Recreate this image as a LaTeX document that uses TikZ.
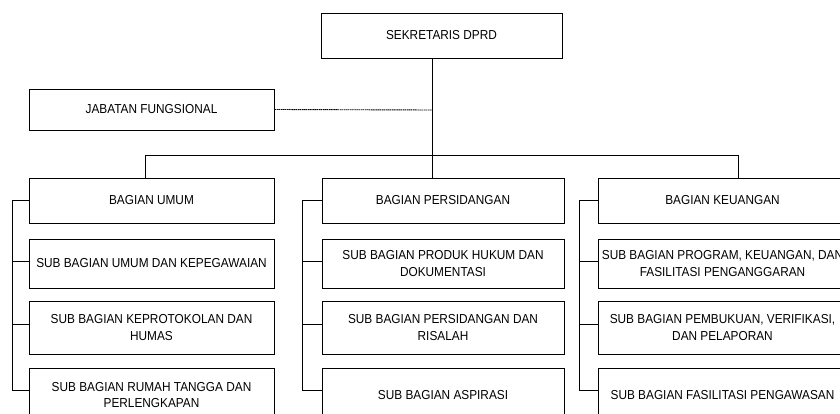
\documentclass[tikz,border=0pt]{standalone}
\usepackage{fontspec}
\setmainfont[FakeStretch=0.91]{Liberation Sans}
\begin{document}
\begin{tikzpicture}[x=1pt,y=-1pt,
  box/.style={draw, line width=0.9pt, align=center, inner sep=0.5pt,
    font=\fontsize{13}{16.5}\selectfont},
  colA/.style={box, minimum width=245pt},
  colB/.style={box, minimum width=242pt},
  colC/.style={box, minimum width=249pt},
  hA/.style={minimum height=45pt},
  hB/.style={minimum height=49pt},
  hC/.style={minimum height=53pt},
  hD/.style={minimum height=54pt},
  conn/.style={line width=0.9pt},
  dashconn/.style={line width=0.9pt, dash pattern=on 1.5pt off 0.6pt}]
\useasboundingbox (0,0) rectangle (840,414);
\clip (0,0) rectangle (840,414);

% top
\node[box, minimum width=241pt, minimum height=45pt] (sek) at (441.5,35.5) {SEKRETARIS DPRD};
\node[colA, minimum height=41pt] (jab) at (151.5,109.5) {JABATAN FUNGSIONAL};

% column A
\node[colA,hA] (bu) at (151.5,200.5) {BAGIAN UMUM};
\node[colA,hB] (su1) at (151.5,263.5) {SUB BAGIAN UMUM DAN KEPEGAWAIAN};
\node[colA,hC] (su2) at (151.5,327.5) {SUB BAGIAN KEPROTOKOLAN DAN\\HUMAS};
\node[colA,hD] (su3) at (151.5,395) {SUB BAGIAN RUMAH TANGGA DAN\\PERLENGKAPAN};

% column B
\node[colB,hA] (bp) at (443,200.5) {BAGIAN PERSIDANGAN};
\node[colB,hB] (sp1) at (443,263.5) {SUB BAGIAN PRODUK HUKUM DAN\\DOKUMENTASI};
\node[colB,hC] (sp2) at (443,327.5) {SUB BAGIAN PERSIDANGAN DAN\\RISALAH};
\node[colB,hD] (sp3) at (443,395) {SUB BAGIAN ASPIRASI};

% column C
\node[colC,hA] (bk) at (722.5,200.5) {BAGIAN KEUANGAN};
\node[colC,hB] (sk1) at (722.5,263.5) {SUB BAGIAN PROGRAM, KEUANGAN, DAN\\FASILITASI PENGANGGARAN};
\node[colC,hC] (sk2) at (722.5,327.5) {SUB BAGIAN PEMBUKUAN, VERIFIKASI,\\DAN PELAPORAN};
\node[colC,hD] (sk3) at (722.5,395) {SUB BAGIAN FASILITASI PENGAWASAN};

% connector coordinates
\coordinate (spine) at ([xshift=-9.5pt]sek.south);
\coordinate (busJ) at (432,110);
\coordinate (busY) at (432,155);
\coordinate (busA) at (145,155);
\coordinate (busC) at (738,155);
\coordinate (brA) at (12,200);
\coordinate (brB) at (302,200);
\coordinate (brC) at (579,200);

% main tree
\draw[conn] (spine) -- (spine |- bp.north);
\draw[conn] (busA |- bu.north) -- (busA) -- (busC) -- (busC |- bk.north);
\draw[dashconn] (jab.east) -- (busJ);

% brackets
\foreach \b/\n/\s in {A/bu/0, A/su1/2.5, A/su2/3.5, A/su3/5,
                      B/bp/0, B/sp1/2.5, B/sp2/3.5, B/sp3/5,
                      C/bk/0, C/sk1/2.5, C/sk2/3.5, C/sk3/5}{
  \draw[conn] ([yshift=\s pt]\n.west) -- ([yshift=\s pt]\n.west -| br\b);
}
\draw[conn] (brA) -- ([yshift=5pt]su3.west -| brA);
\draw[conn] (brB) -- ([yshift=5pt]sp3.west -| brB);
\draw[conn] (brC) -- ([yshift=5pt]sk3.west -| brC);
\end{tikzpicture}
\end{document}
